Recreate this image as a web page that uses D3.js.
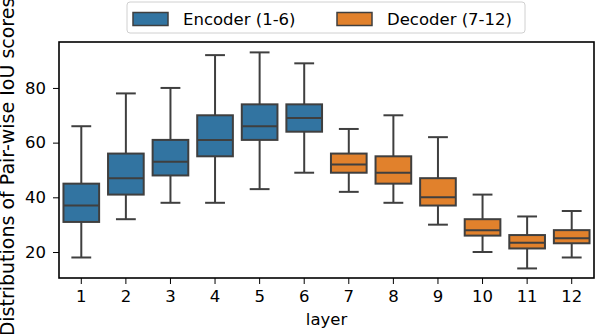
<!DOCTYPE html>
<html><head><meta charset="utf-8">
<script src="https://cdn.jsdelivr.net/npm/d3@7"></script>
<style>body{margin:0;background:#fff}svg{display:block}text{font-family:"DejaVu Sans",sans-serif;fill:#000}</style>
</head><body><svg id="c" width="596" height="334"></svg>
<script>
const layers = ["1","2","3","4","5","6","7","8","9","10","11","12"];
const groups = ["enc","enc","enc","enc","enc","enc","dec","dec","dec","dec","dec","dec"];
const whiskerLow = [18,32,38,38,43,49,42,38,30,20,14,18];
const q1 =         [31,41,48,55,61,64,49,45,37,26,21.3,23.2];
const median =     [37,47,53,61,66,69,52,49,40,28,23.4,25];
const q3 =         [45,56,61,70,74,74,56,55,47,32,26.2,28];
const whiskerHigh =[66,78,80,92,93,89,65,70,62,41,33,35];
const yTicks = [20,40,60,80];
const legendLabels = ["Encoder (1-6)","Decoder (7-12)"];
const colors = {enc:"#3274a1", dec:"#e1812c"};
const lineCol = "#3f3f3f";
const FS = 16.5;

const svg = d3.select("#c");
const L=59, R=594, T=42, B=278;
const x = d3.scaleBand().domain(layers).range([L,R]).padding(0);
const y = d3.scaleLinear().domain([10.5,96.8]).range([B,T]);
const bw = x.bandwidth()*0.8;

const data = layers.map((l,i)=>({l,g:groups[i],lo:whiskerLow[i],q1:q1[i],md:median[i],q3:q3[i],hi:whiskerHigh[i]}));
const g = svg.append("g");
data.forEach(d=>{
  const cx = x(d.l)+x.bandwidth()/2;
  const gg = g.append("g").attr("stroke",lineCol).attr("stroke-width",2);
  gg.append("line").attr("x1",cx).attr("x2",cx).attr("y1",y(d.q3)).attr("y2",y(d.hi));
  gg.append("line").attr("x1",cx).attr("x2",cx).attr("y1",y(d.q1)).attr("y2",y(d.lo));
  gg.append("line").attr("x1",cx-bw/4-1).attr("x2",cx+bw/4+1).attr("y1",y(d.hi)).attr("y2",y(d.hi));
  gg.append("line").attr("x1",cx-bw/4-1).attr("x2",cx+bw/4+1).attr("y1",y(d.lo)).attr("y2",y(d.lo));
  gg.append("rect").attr("x",cx-bw/2).attr("width",bw).attr("y",y(d.q3)).attr("height",y(d.q1)-y(d.q3)).attr("fill",colors[d.g]);
  gg.append("line").attr("x1",cx-bw/2).attr("x2",cx+bw/2).attr("y1",y(d.md)).attr("y2",y(d.md));
});

const xa = svg.append("g").attr("transform",`translate(0,${B})`).call(d3.axisBottom(x).tickSize(6).tickPadding(6));
const ya = svg.append("g").attr("transform",`translate(${L},0)`).call(d3.axisLeft(y).tickValues(yTicks).tickSize(6).tickPadding(7));
[xa,ya].forEach(a=>{a.select(".domain").remove();a.selectAll("line").attr("stroke","#000").attr("stroke-width",1);a.selectAll("text").attr("font-size",FS).attr("font-family","DejaVu Sans").attr("fill","#000");});
svg.append("rect").attr("x",L).attr("y",T).attr("width",R-L).attr("height",B-T).attr("fill","none").attr("stroke","#000").attr("stroke-width",1.6);

svg.append("text").attr("x",(L+R)/2).attr("y",325).attr("text-anchor","middle").attr("font-size",FS).text("layer");
svg.append("text").attr("transform",`translate(14,167) rotate(-90)`).attr("text-anchor","middle").attr("font-size",19).text("Distributions of Pair-wise IoU scores");

// legend
const lg = svg.append("g");
lg.append("rect").attr("x",127).attr("y",2).attr("width",398).attr("height",31).attr("rx",3).attr("fill","#fff").attr("stroke","#d0d0d0");
const lx = [133,337];
legendLabels.forEach((t,i)=>{
  lg.append("rect").attr("x",lx[i]).attr("y",12.5).attr("width",35).attr("height",13).attr("fill",colors[i?"dec":"enc"]).attr("stroke",lineCol).attr("stroke-width",1.5);
  lg.append("text").attr("x",lx[i]+50).attr("y",24.5).attr("font-size",FS).text(t);
});
</script></body></html>
